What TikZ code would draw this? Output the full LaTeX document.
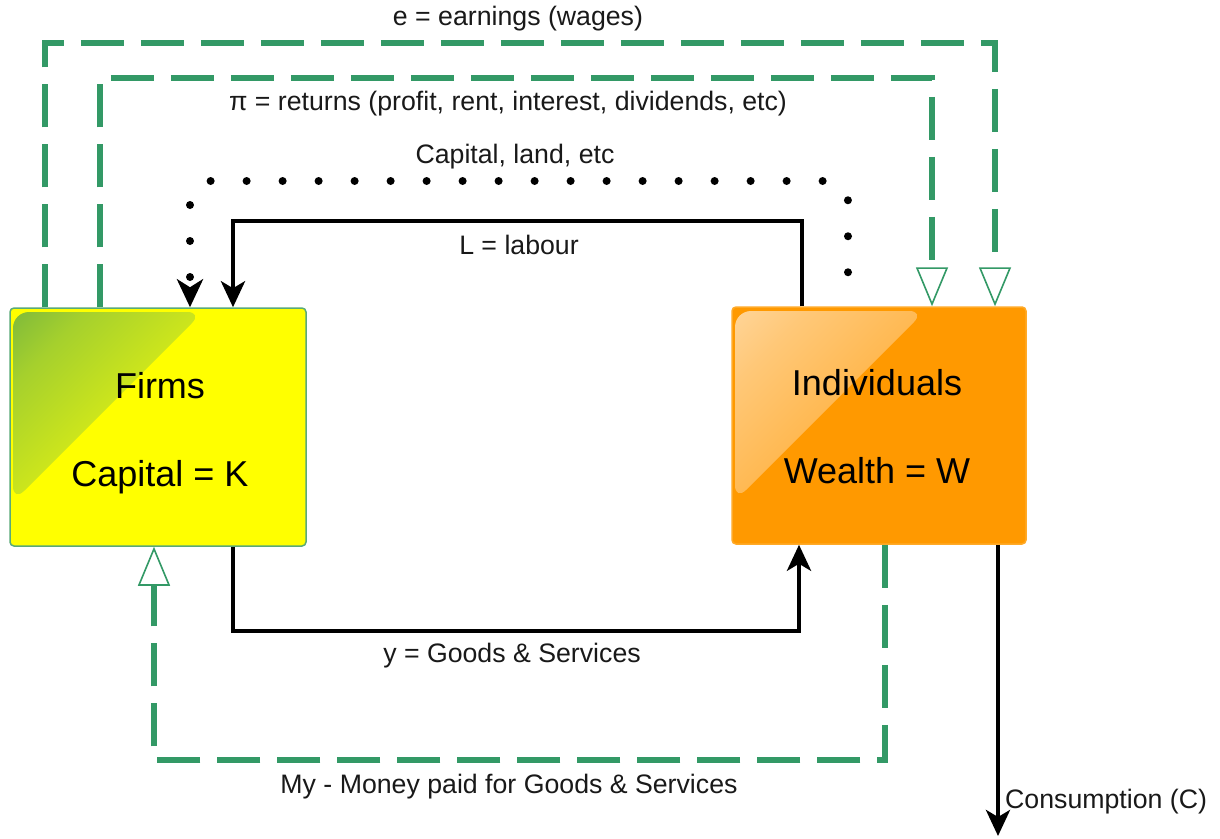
\documentclass[tikz,border=0pt]{standalone}
\usepackage{fontspec}
\setmainfont{Liberation Sans}
\usetikzlibrary{arrows.meta,calc}
\definecolor{dgreen}{RGB}{51,153,102}
\definecolor{firmborder}{RGB}{90,170,120}
\definecolor{firmfill}{RGB}{255,255,0}
\definecolor{indivfill}{RGB}{255,153,0}
\definecolor{indivborder}{RGB}{255,170,40}
\definecolor{fgA}{RGB}{68,152,80}
\definecolor{fgB}{RGB}{165,208,45}
\definecolor{fgC}{RGB}{228,242,18}
\definecolor{igA}{RGB}{255,232,200}
\definecolor{igB}{RGB}{255,200,120}
\definecolor{igC}{RGB}{255,176,60}
\definecolor{txt}{RGB}{25,25,25}
\pgfdeclareverticalshading{firmgloss}{100bp}{color(0bp)=(fgC); color(50bp)=(fgC); color(75bp)=(fgB); color(100bp)=(fgA)}
\pgfdeclareverticalshading{indivgloss}{100bp}{color(0bp)=(igC); color(50bp)=(igC); color(75bp)=(igB); color(100bp)=(igA)}
\tikzset{
  gloss/.style={path picture={
      \shade[shading=#1, shading angle=45, rounded corners=16pt]
        ($(path picture bounding box.north west)+(3,4)$)
        -- ++(190,0) -- ++(-190,190) -- cycle;}}
}
\begin{document}
\begin{tikzpicture}[x=1pt,y=-1pt,
  lbl/.style={font=\fontsize{26.7}{32}\selectfont, text=txt, inner sep=0pt},
  boxtxt/.style={font=\fontsize{36}{43}\selectfont, align=center, text=black, inner sep=0pt},
  edash/.style={draw=dgreen, line width=6pt, dash pattern=on 43pt off 17pt,
    -{Triangle[open,length=39pt,width=32pt,line width=1.6pt]}},
  solidarr/.style={draw=black, line width=4.5pt,
    -{Stealth[length=26pt,width=24pt,inset=7pt]}},
  dotarr/.style={draw=black, line width=8pt, line cap=round,
    dash pattern=on 0pt off 36pt, dash phase=2pt, rounded corners=20pt,
    -{Stealth[length=28pt,width=26pt,inset=8pt]}}
]
\fill[white] (0,0) rectangle (1220,838);
\useasboundingbox (0,0) rectangle (1220,838);

% boxes
\node[draw=firmborder, line width=1.5pt, fill=firmfill, rounded corners=4pt,
  minimum width=296pt, minimum height=238pt, inner sep=0pt,
  gloss=firmgloss] (firms) at (158,427) {};
\node[draw=indivborder, line width=1.5pt, fill=indivfill, rounded corners=4pt,
  minimum width=294pt, minimum height=237pt, inner sep=0pt,
  gloss=indivgloss] (indiv) at (879,425.5) {};
\node[boxtxt] (firmstxt) at (160,433) {Firms\\[45pt]Capital = K};
\node[boxtxt] (indivtxt) at (877,427) {Individuals\\[45pt]Wealth = W};

% corner coordinates
\coordinate (eTL) at (45,43);
\coordinate (eTR) at (995,43);
\coordinate (pTL) at (100,78);
\coordinate (pTR) at (932,78);
\coordinate (dR) at (848,181);
\coordinate (dL) at (190,181);
\coordinate (LR) at (802,221);
\coordinate (LL) at (233,221);
\coordinate (yL) at (233,631);
\coordinate (yR) at (799,631);
\coordinate (mR) at (885,760);
\coordinate (mL) at (154,760);
\coordinate (cEnd) at (998,836);

% connectors
\draw[edash] (firms.north -| eTL) -- (eTL) -- (eTR) -- (indiv.north -| eTR);
\draw[edash] (firms.north -| pTL) -- (pTL) -- (pTR) -- (indiv.north -| pTR);
\draw[dotarr] (indiv.north -| dR) -- (dR) -- (dL) -- (firms.north -| dL);
\draw[solidarr] (indiv.north -| LR) -- (LR) -- (LL) -- (firms.north -| LL);
\draw[solidarr] (firms.south -| yL) -- (yL) -- (yR) -- (indiv.south -| yR);
\draw[edash] (indiv.south -| mR) -- (mR) -- (mL) -- (firms.south -| mL);
\draw[solidarr] (indiv.south -| cEnd) -- (cEnd);

% labels
\node[lbl] (le) at (518,19) {e = earnings (wages)};
\node[lbl] (lpi) at (508,104) {π = returns (profit, rent, interest, dividends, etc)};
\node[lbl] (lcap) at (515,157) {Capital, land, etc};
\node[lbl] (ll) at (519,245) {L = labour};
\node[lbl] (ly) at (512,656) {y = Goods \& Services};
\node[lbl] (lmy) at (509,787) {My - Money paid for Goods \& Services};
\node[lbl, anchor=west] (lc) at (1005,802) {Consumption (C)};
\end{tikzpicture}
\end{document}
